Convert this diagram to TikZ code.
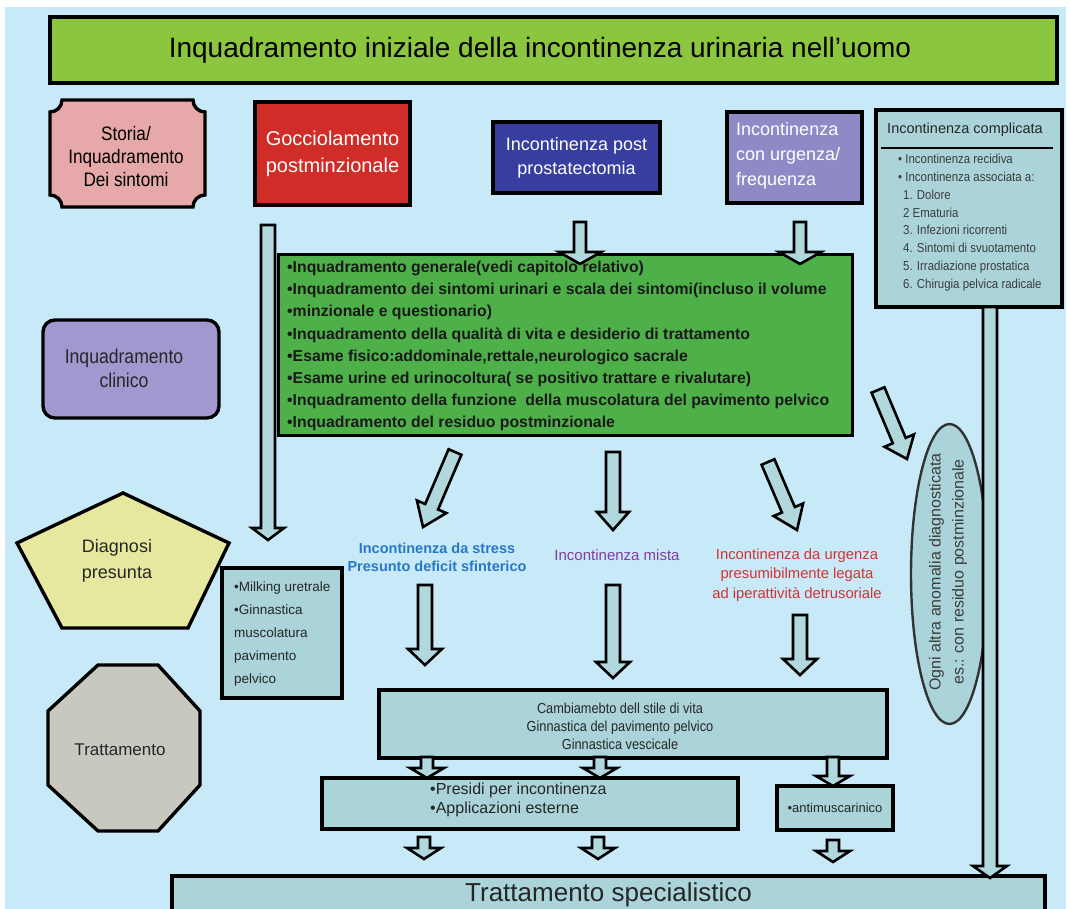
\documentclass[tikz,border=0pt]{standalone}
\usepackage{fontspec}
\setmainfont{Liberation Sans}
\newfontfamily\condensed[FakeStretch=0.88]{Liberation Sans}
\usetikzlibrary{calc,shapes.geometric}

\definecolor{bgblue}{RGB}{200,233,248}
\definecolor{titlegreen}{RGB}{140,198,63}
\definecolor{pinkbox}{RGB}{230,168,168}
\definecolor{redbox}{RGB}{208,44,40}
\definecolor{navybox}{RGB}{55,62,160}
\definecolor{lilacbox}{RGB}{143,138,198}
\definecolor{tealbox}{RGB}{170,212,218}
\definecolor{greenbox}{RGB}{78,176,72}
\definecolor{clinbox}{RGB}{162,152,208}
\definecolor{yellowbox}{RGB}{230,232,160}
\definecolor{greybox}{RGB}{200,200,193}
\definecolor{arrowfill}{RGB}{176,216,221}
\definecolor{stressblue}{RGB}{40,120,200}
\definecolor{mistapurple}{RGB}{130,60,165}
\definecolor{urgred}{RGB}{212,50,50}
\definecolor{darktext}{RGB}{60,60,60}

% hollow block arrow: tail, tip, shaft half width, head half width, head length
\newcommand{\blockarr}[5]{%
  \coordinate (bh) at ($(#2)!#5!(#1)$);
  \draw[blockarrow] ($(#1)!#3!90:(#2)$) -- ($(bh)!#3!90:(#2)$) -- ($(bh)!#4!90:(#2)$)
    -- (#2) -- ($(bh)!#4!-90:(#2)$) -- ($(bh)!#3!-90:(#2)$) -- ($(#1)!#3!-90:(#2)$) -- cycle;
}

\tikzset{
  box/.style={draw=black, line width=3.4pt, inner sep=0pt, align=center},
  shapeline/.style={draw=black, line width=3.4pt, line join=miter},
  blockarrow/.style={draw=black, line width=2.6pt, fill=arrowfill, line join=miter},
  fs/.style 2 args={font=\fontsize{#1}{#2}\selectfont},
}

\begin{document}
\begin{tikzpicture}[x=1pt, y=-1pt]
\useasboundingbox (0,0) rectangle (1070,909);
\clip (0,0) rectangle (1070,909);
\fill[white] (0,0) rectangle (1070,909);
\fill[bgblue] (5,7) rectangle (1066,915);

% header
\node[box, fill=titlegreen, minimum width=1007pt, minimum height=66pt] (title) at (553.5,50) {};
\node[fs={28}{32}] (titletext) at (540,50) {Inquadramento iniziale della incontinenza urinaria nell’uomo};

% row labels on the left
\draw[shapeline, fill=pinkbox]
  (62,100) -- (193,100) arc[start angle=180, end angle=270, radius=12pt]
  -- (205,195) arc[start angle=90, end angle=180, radius=12pt]
  -- (62,207) arc[start angle=0, end angle=90, radius=12pt]
  -- (50,112) arc[start angle=270, end angle=360, radius=12pt] -- cycle;
\node[align=center, font=\condensed\fontsize{19.5}{23}\selectfont] (storia) at (126,157)
  {Storia/\\Inquadramento\\Dei sintomi};

\node[box, fill=clinbox, rounded corners=12pt, minimum width=176pt, minimum height=98pt] (clin) at (131,369) {};
\node[align=center, font=\condensed\fontsize{20}{24}\selectfont, text=black!85] (clintext) at (124,368)
  {Inquadramento\\clinico};

\draw[shapeline, fill=yellowbox] (123,493) -- (229,543) -- (188,628) -- (62,628) -- (17,543) -- cycle;
\node[align=center, fs={18}{26}, text=black!85] (diag) at (117,561) {Diagnosi\\presunta};

\draw[shapeline, fill=greybox] (98,665) -- (158,665) -- (200,711) -- (200,785)
  -- (158,831) -- (98,831) -- (48,785) -- (48,711) -- cycle;
\node[fs={17}{20}, text=black!85] (tratt) at (120,750) {Trattamento};

% presenting complaints
\node[box, fill=redbox, minimum width=155pt, minimum height=103pt, text=white, fs={20}{27}]
  (goccio) at (332.5,153.5) {Gocciolamento\\postminzionale};
\node[box, fill=navybox, minimum width=167pt, minimum height=71pt, text=white, fs={18}{24}]
  (post) at (576.5,157.5) {Incontinenza post\\prostatectomia};
\node[box, fill=lilacbox, minimum width=135pt, minimum height=91pt] (urg) at (794.5,157.5) {};
\node[anchor=west, align=left, text=white, fs={18}{25}, inner sep=0pt] (urgtext) at (736,156)
  {Incontinenza\\con urgenza/\\frequenza};

% complicated incontinence
\node[box, fill=tealbox, minimum width=186pt, minimum height=197pt] (compl) at (969,208.5) {};
\node[fs={14.5}{16}, text=black!85] (compltitle) at (965,130) {Incontinenza complicata};
\draw[line width=2.4pt] (881,148) -- (1053,148);
\node[anchor=north west, align=left, inner sep=0pt, text=darktext,
  font=\condensed\fontsize{13}{17.8}\selectfont] (compllist) at (898,154)
  {• Incontinenza recidiva\\
   • Incontinenza associata a:\\
   \hspace*{5pt}1. Dolore\\
   \hspace*{5pt}2 Ematuria\\
   \hspace*{5pt}3. Infezioni ricorrenti\\
   \hspace*{5pt}4. Sintomi di svuotamento\\
   \hspace*{5pt}5. Irradiazione prostatica\\
   \hspace*{5pt}6. Chirugia pelvica radicale};

% clinical assessment
\node[box, fill=greenbox, minimum width=574pt, minimum height=181pt] (green) at (565.5,345) {};
\node[anchor=west, align=left, inner sep=0pt, text=black!90,
  font=\bfseries\fontsize{15.8}{22.1}\selectfont] (greentext) at (287,346)
  {•Inquadramento generale(vedi capitolo relativo)\\
   •Inquadramento dei sintomi urinari e scala dei sintomi(incluso il volume\\
   •minzionale e questionario)\\
   •Inquadramento della qualità di vita e desiderio di trattamento\\
   •Esame fisico:addominale,rettale,neurologico sacrale\\
   •Esame urine ed urinocoltura( se positivo trattare e rivalutare)\\
   •Inquadramento della funzione\ \ della muscolatura del pavimento pelvico\\
   •Inquadramento del residuo postminzionale};

% presumed diagnoses
\node[align=center, text=stressblue, font=\bfseries\fontsize{14.5}{18}\selectfont] (stress) at (437,557)
  {Incontinenza da stress\\Presunto deficit sfinterico};
\node[text=mistapurple, fs={15}{18}] (mista) at (617,555) {Incontinenza mista};
\node[align=center, text=urgred, fs={14.8}{19.5}] (urgdet) at (797,575)
  {Incontinenza da urgenza\\presumibilmente legata\\ad iperattività detrusoriale};

\node[ellipse, draw=black!80, line width=2.4pt, fill=tealbox, minimum width=77pt, minimum height=300pt,
  inner sep=0pt] (anom) at (949.5,574) {};
\node[rotate=90, align=center, text=darktext, fs={16}{23}] (anomtext) at (948,572)
  {Ogni altra anomalia diagnosticata\\es.: con residuo postminzionale};

% treatments
\node[box, fill=tealbox, minimum width=120pt, minimum height=130pt] (milk) at (282,633) {};
\node[anchor=west, align=left, inner sep=0pt, text=black!85, fs={13.5}{23}] (milktext) at (234,634)
  {•Milking uretrale\\•Ginnastica\\muscolatura\\pavimento\\pelvico};

\node[box, fill=tealbox, minimum width=508pt, minimum height=68pt] (camb) at (633,724) {};
\node[align=center, text=black!85, font=\condensed\fontsize{14.5}{18}\selectfont] (cambtext) at (620,726)
  {Cambiamebto dell stile di vita\\Ginnastica del pavimento pelvico\\Ginnastica vescicale};
\node[box, fill=tealbox, minimum width=416pt, minimum height=51pt] (pres) at (530,803.5) {};
\node[anchor=west, align=left, inner sep=0pt, text=black!85, fs={16}{19}] (prestext) at (430,800)
  {•Presidi per incontinenza\\•Applicazioni esterne};
\node[box, fill=tealbox, minimum width=116pt, minimum height=44pt, text=black!85, fs={13}{15}]
  (anti) at (835,808) {•antimuscarinico};

\node[box, fill=tealbox, minimum width=873pt, minimum height=38pt, fs={26}{30}, text=black!85]
  (spec) at (608.5,895) {Trattamento specialistico};

% connector end points
\coordinate (a1s) at (580,222);  \coordinate (a1e) at (580,264);
\coordinate (a2s) at (800,222);  \coordinate (a2e) at (800,264);
\coordinate (l1s) at (268,225);  \coordinate (l1e) at (268,540);
\coordinate (r1s) at (990,307);  \coordinate (r1e) at (990,878);
\coordinate (d1s) at (455,452);  \coordinate (d1e) at (423,527);
\coordinate (d2s) at (613,452);  \coordinate (d2e) at (613,530);
\coordinate (d3s) at (768,462);  \coordinate (d3e) at (797,530);
\coordinate (d4s) at (878,390);  \coordinate (d4e) at (907,459);
\coordinate (t1s) at (425,585);  \coordinate (t1e) at (425,665);
\coordinate (t2s) at (613,585);  \coordinate (t2e) at (613,678);
\coordinate (t3s) at (800,615);  \coordinate (t3e) at (800,675);
\coordinate (c1s) at (427,757);  \coordinate (c1e) at (427,778);
\coordinate (c2s) at (600,757);  \coordinate (c2e) at (600,778);
\coordinate (c3s) at (833,757);  \coordinate (c3e) at (833,786);
\coordinate (b1s) at (424,837);  \coordinate (b1e) at (424,859);
\coordinate (b2s) at (598,837);  \coordinate (b2e) at (598,859);
\coordinate (b3s) at (833,840);  \coordinate (b3e) at (833,862);

\blockarr{a1s}{a1e}{6pt}{21pt}{12pt}
\blockarr{a2s}{a2e}{6pt}{21pt}{12pt}
\blockarr{l1s}{l1e}{7pt}{16pt}{12pt}
\blockarr{r1s}{r1e}{7pt}{17pt}{12pt}
\blockarr{d1s}{d1e}{7pt}{16pt}{22pt}
\blockarr{d2s}{d2e}{7pt}{16pt}{18pt}
\blockarr{d3s}{d3e}{7pt}{16pt}{22pt}
\blockarr{d4s}{d4e}{7pt}{16pt}{20pt}
\blockarr{t1s}{t1e}{7pt}{17pt}{16pt}
\blockarr{t2s}{t2e}{7pt}{17pt}{16pt}
\blockarr{t3s}{t3e}{7pt}{17pt}{16pt}
\blockarr{c1s}{c1e}{6pt}{17pt}{10pt}
\blockarr{c2s}{c2e}{6pt}{17pt}{10pt}
\blockarr{c3s}{c3e}{6pt}{17pt}{10pt}
\blockarr{b1s}{b1e}{6pt}{17pt}{11pt}
\blockarr{b2s}{b2e}{6pt}{17pt}{11pt}
\blockarr{b3s}{b3e}{6pt}{17pt}{11pt}
\end{tikzpicture}
\end{document}
